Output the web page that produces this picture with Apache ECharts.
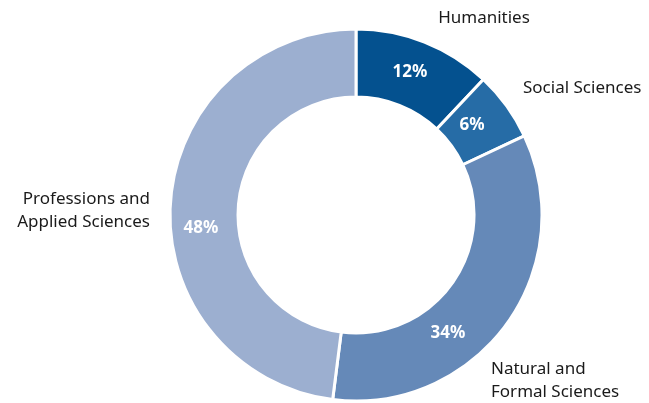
<!DOCTYPE html>
<html>
<head>
<meta charset="utf-8">
<script src="https://cdn.jsdelivr.net/npm/echarts@6/dist/echarts.min.js"></script>
<style>
  html, body { margin: 0; padding: 0; background: #fff; }
  #chart { width: 649px; height: 403px; }
</style>
</head>
<body>
<div id="chart"></div>
<script>
// data
var categories = ['Humanities', 'Social Sciences', 'Natural and\nFormal Sciences', 'Professions and\nApplied Sciences'];
var shares = [12, 6, 34, 48];
var colors = ['#04518f', '#266ca6', '#6589b8', '#9cafd0'];

// where the category names sit (outside the ring)
var namePos = [
    { x: 484, y: 18, align: 'center' },
    { x: 523, y: 88, align: 'left' },
    { x: 491, y: 381, align: 'left' },
    { x: 150, y: 211, align: 'right' }
];
// percent labels inside the ring
var pctPos = [[410, 72], [472, 125], [448, 333], [201, 228]];

var chart = echarts.init(document.getElementById('chart'));

var pieData = categories.map(function (c, i) {
    return { name: c, value: shares[i], itemStyle: { color: colors[i] } };
});

var base = {
    type: 'pie',
    center: [356, 215],
    radius: [118, 186],
    startAngle: 90,
    clockwise: true,
    silent: true,
    animation: false,
    data: pieData
};

var option = {
    backgroundColor: '#fff',
    textStyle: { fontFamily: 'Noto Sans' },
    series: [
        Object.assign({}, base, {
            itemStyle: { borderColor: '#fff', borderWidth: 3 },
            label: {
                show: true,
                position: 'inside',
                formatter: '{c}%',
                color: '#fff',
                fontSize: 17,
                fontWeight: 'bold',
                fontFamily: 'Noto Sans'
            },
            labelLine: { show: false },
            labelLayout: function (p) {
                var pos = pctPos[p.dataIndex];
                return { x: pos[0], y: pos[1], align: 'center', verticalAlign: 'middle' };
            }
        }),
        Object.assign({}, base, {
            itemStyle: { color: 'transparent', borderWidth: 0 },
            data: categories.map(function (c, i) { return { name: c, value: shares[i] }; }),
            label: {
                show: true,
                position: 'outside',
                formatter: '{b}',
                color: '#1a1a1a',
                fontSize: 17,
                lineHeight: 23,
                overflow: 'none',
                edgeDistance: 0,
                fontFamily: 'Noto Sans'
            },
            labelLine: { show: false },
            labelLayout: function (p) {
                var pos = namePos[p.dataIndex];
                return { x: pos.x, y: pos.y, align: pos.align, verticalAlign: 'middle' };
            }
        })
    ]
};

chart.setOption(option);
</script>
</body>
</html>
